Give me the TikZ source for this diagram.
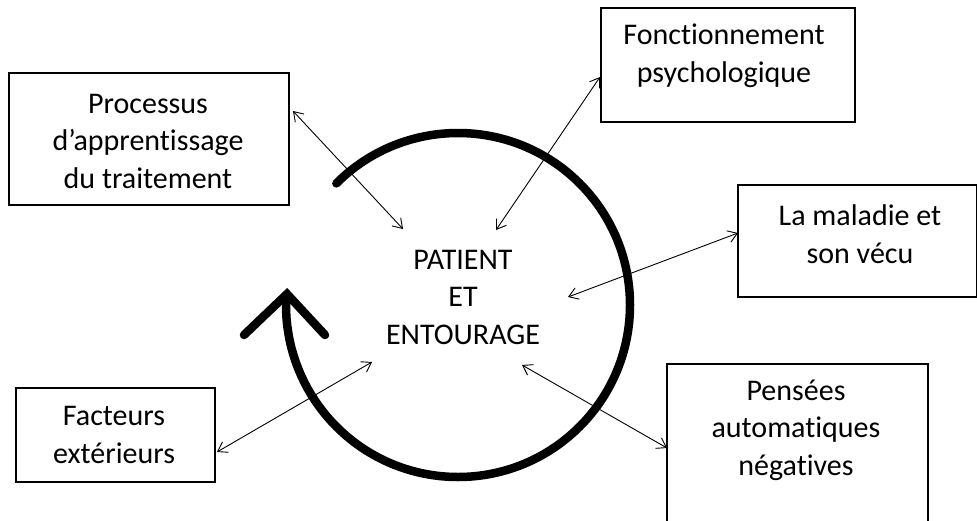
\documentclass[tikz,border=0pt]{standalone}
\usepackage{fontspec}
\setmainfont{Carlito}[Ligatures=CommonOff]
\usetikzlibrary{arrows.meta}
\begin{document}
\begin{tikzpicture}[x=1pt,y=-1pt,
  txt/.style={align=center, font=\fontsize{30}{37.5}\selectfont, inner sep=0pt},
  frame/.style={draw, line width=1.3pt, inner sep=0pt},
  conn/.style={line width=0.9pt, {Straight Barb[length=9pt,width=12pt]}-{Straight Barb[length=9pt,width=12pt]}},
  cyc/.style={line width=8.5pt}]
\useasboundingbox (0,0) rectangle (977,520);
\clip (0,0) rectangle (977,520);

% centre
\node[txt] (center) at (463,297) {PATIENT\\ET\\ENTOURAGE};

% boxes
\node[frame, minimum width=280, minimum height=132] (procbox) at (149,139) {};
\node[txt] (proc) at (148,141) {Processus\\d’apprentissage\\du traitement};

\node[frame, minimum width=254, minimum height=114] (foncbox) at (728,65) {};
\node[txt] (fonc) at (724,56) {Fonctionnement\\psychologique};

\node[frame, minimum width=239, minimum height=112] (malbox) at (857.5,241) {};
\node[txt] (mal) at (860,234) {La maladie et\\son vécu};

\node[frame, minimum width=261, minimum height=170] (pensbox) at (797.5,449) {};
\node[txt] (pens) at (796,430) {Pensées\\automatiques\\négatives};

\node[frame, minimum width=199, minimum height=94] (factbox) at (115.5,435) {};
\node[txt] (fact) at (114,435) {Facteurs\\extérieurs};

% cycle arrow
\coordinate (cc) at (458,305);
\draw[cyc, line cap=round] (cc) ++(225:172) arc[start angle=225, end angle=541.5, radius=172];
\coordinate (chL) at (244,335);
\coordinate (chT) at (287,294);
\coordinate (chR) at (325,335);
\draw[cyc, line join=miter, line cap=round] (chL) -- (chT) -- (chR);

% connectors
\coordinate (pA) at (293,111); \coordinate (pB) at (403,229);
\coordinate (fA) at (600,77);  \coordinate (fB) at (496,230);
\coordinate (mA) at (738,233); \coordinate (mB) at (568,297);
\coordinate (nA) at (667,448); \coordinate (nB) at (522,365);
\coordinate (xA) at (217,452); \coordinate (xB) at (372,362);
\draw[conn] (pA) -- (pB);
\draw[conn] (fA) -- (fB);
\draw[conn] (mA) -- (mB);
\draw[conn] (nA) -- (nB);
\draw[conn] (xA) -- (xB);
\end{tikzpicture}
\end{document}
